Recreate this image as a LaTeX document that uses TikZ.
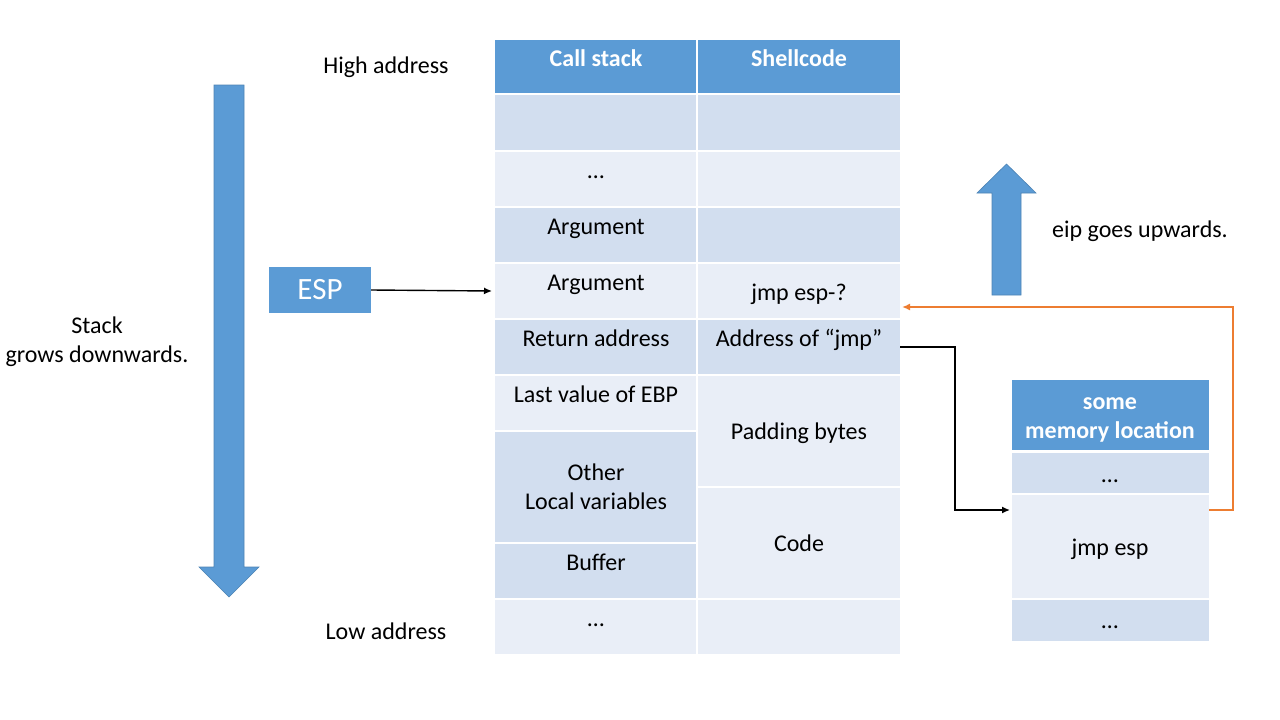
\documentclass[tikz,border=0pt]{standalone}
\usepackage{fontspec}
\setmainfont{Carlito}
\usetikzlibrary{arrows.meta,calc}
\definecolor{hdr}{HTML}{5B9BD5}
\definecolor{cdark}{HTML}{D2DEEF}
\definecolor{clight}{HTML}{E9EEF7}
\definecolor{corange}{HTML}{ED7D31}
\begin{document}
\begin{tikzpicture}[x=1pt,y=-1pt,
  cell/.style={draw=none,inner sep=0pt,outer sep=0pt,anchor=north west},
  txt/.style={inner sep=0pt,anchor=base,font=\fontsize{24}{28}\selectfont,text=black},
  htxt/.style={txt,font=\fontsize{24}{28}\selectfont\bfseries,text=white},
  bigarrow/.style={fill=hdr,draw=hdr!85!black,line width=0.6pt},
  conn/.style={draw=black,line width=1.4pt,-{Latex[length=8pt,width=7pt]}},
  oconn/.style={draw=corange,line width=1.6pt,-{Latex[length=8pt,width=7pt]}}]
\useasboundingbox[fill=white] (0,0) rectangle (1280,720);

% main table header
\node[cell,fill=hdr,minimum width=201,minimum height=53] (h1) at (495,40) {};
\node[cell,fill=hdr,minimum width=202,minimum height=53] (h2) at (698,40) {};
% call stack column
\node[cell,fill=cdark, minimum width=201,minimum height=55] (a1) at (495,95) {};
\node[cell,fill=clight,minimum width=201,minimum height=54] (a2) at (495,152) {};
\node[cell,fill=cdark, minimum width=201,minimum height=54] (a3) at (495,208) {};
\node[cell,fill=clight,minimum width=201,minimum height=54] (a4) at (495,264) {};
\node[cell,fill=cdark, minimum width=201,minimum height=54] (a5) at (495,320) {};
\node[cell,fill=clight,minimum width=201,minimum height=54] (a6) at (495,376) {};
\node[cell,fill=cdark, minimum width=201,minimum height=110] (a7) at (495,432) {};
\node[cell,fill=cdark, minimum width=201,minimum height=54] (a8) at (495,544) {};
\node[cell,fill=clight,minimum width=201,minimum height=54] (a9) at (495,600) {};
% shellcode column
\node[cell,fill=cdark, minimum width=202,minimum height=55] (b1) at (698,95) {};
\node[cell,fill=clight,minimum width=202,minimum height=54] (b2) at (698,152) {};
\node[cell,fill=cdark, minimum width=202,minimum height=54] (b3) at (698,208) {};
\node[cell,fill=clight,minimum width=202,minimum height=54] (b4) at (698,264) {};
\node[cell,fill=cdark, minimum width=202,minimum height=54] (b5) at (698,320) {};
\node[cell,fill=clight,minimum width=202,minimum height=110] (b6) at (698,376) {};
\node[cell,fill=clight,minimum width=202,minimum height=110] (b7) at (698,488) {};
\node[cell,fill=clight,minimum width=202,minimum height=54] (b8) at (698,600) {};

% texts main table
\node[htxt] (th1) at (596,66) {Call stack};
\node[htxt] (th2) at (799,66) {Shellcode};
\node[txt] (ta2) at (596,178) {…};
\node[txt] (ta3) at (596,234) {Argument};
\node[txt] (ta4) at (596,290) {Argument};
\node[txt] (ta5) at (596,346) {Return address};
\node[txt] (ta6) at (596,402) {Last value of EBP};
\node[txt] (ta7a) at (596,480) {Other};
\node[txt] (ta7b) at (596,509) {Local variables};
\node[txt] (ta8) at (596,570) {Buffer};
\node[txt] (ta9) at (596,626) {…};
\node[txt] (tb4) at (799,300) {jmp esp-?};
\node[txt] (tb5) at (799,346) {Address of “jmp”};
\node[txt] (tb6) at (799,439) {Padding bytes};
\node[txt] (tb7) at (799,551) {Code};

% side labels
\node[txt] (high) at (386,73) {High address};
\node[txt] (low) at (386,639) {Low address};
\node[txt] (stk1) at (97,333) {Stack};
\node[txt] (stk2) at (97,362) {grows downwards.};
\node[txt] (eip) at (1140,237) {eip goes upwards.};

% memory location table
\node[cell,fill=hdr,   minimum width=197,minimum height=70] (m0) at (1012,380) {};
\node[cell,fill=cdark, minimum width=197,minimum height=40] (m1) at (1012,453) {};
\node[cell,fill=clight,minimum width=197,minimum height=103] (m2) at (1012,495) {};
\node[cell,fill=cdark, minimum width=197,minimum height=41] (m3) at (1012,600) {};
\node[htxt] (tm0a) at (1110,409) {some};
\node[htxt] (tm0b) at (1110,438) {memory location};
\node[txt] (tm1) at (1110,482) {…};
\node[txt] (tm2) at (1110,555) {jmp esp};
\node[txt] (tm3) at (1110,628) {…};

% ESP box
\node[draw=none,fill=hdr,minimum width=102,minimum height=46,inner sep=0pt,
      font=\fontsize{31}{34}\selectfont,text=white] (esp) at (320,290) {ESP};

% big arrows
\path[bigarrow] (214,85) -- (244,85) -- (244,567) -- (259,567) -- (229,597)
  -- (199,567) -- (214,567) -- cycle;
\path[bigarrow] (992,295) -- (1021,295) -- (1021,193) -- (1036,193) -- (1006.5,164)
  -- (977,193) -- (992,193) -- cycle;

% connectors
\draw[conn] (esp.east) -- ($(a4.west)+(-3,0)$);
\draw[conn] (b5.east) -- ++(55,0) |- ($(m2.north west)+(-2,15)$);
\draw[oconn] ($(m2.north east)+(0,15)$) -- ++(24,0) |- ($(b4.east)+(2,16)$);
\end{tikzpicture}
\end{document}
